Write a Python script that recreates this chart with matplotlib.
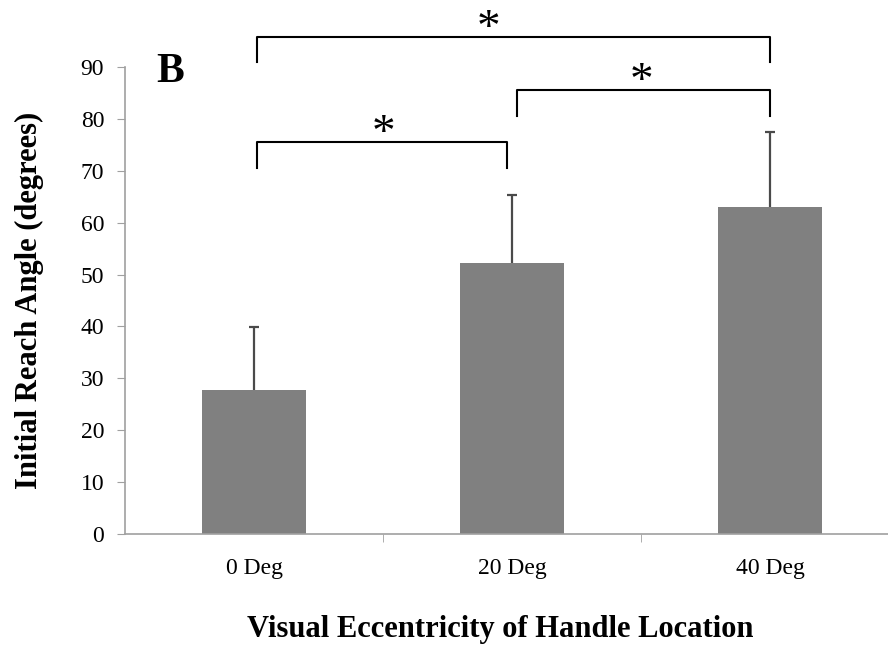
import matplotlib.pyplot as plt

# Data
categories = ["0 Deg", "20 Deg", "40 Deg"]
means = [27.7, 52.2, 63.0]
errors = [12.2, 13.1, 14.5]
y_ticks = [0, 10, 20, 30, 40, 50, 60, 70, 80, 90]

# Significance brackets: (left bar, right bar, bracket height, leg bottom)
brackets = [(0, 2, 95.8, 90.9), (1, 2, 85.5, 80.5), (0, 1, 75.5, 70.5)]
star_x = [0.91, 1.5, 0.5]

plt.rcParams['font.family'] = ['Liberation Serif', 'DejaVu Serif']

fig = plt.figure(figsize=(8.88, 6.5), dpi=100)
W, H = 888, 650
ax = fig.add_axes([125 / W, 116 / H, 774 / W, 467 / H])

x = list(range(len(categories)))
ax.bar(x, means, width=0.4, color='#808080', zorder=2)
# one-sided error bars, cap on top only
tops = [m + e for m, e in zip(means, errors)]
ax.vlines(x, means, tops, color='#4a4a4a', lw=1.6, zorder=3)
ax.plot(x, tops, ls='none', marker='_', ms=7, mew=1.6, color='#4a4a4a', zorder=3)

ax.set_xlim(-0.5, 2.5)
ax.set_ylim(0, 90)
ax.set_yticks(y_ticks)
ax.set_xticks(x)
ax.set_xticklabels(categories)
ax.set_xticks([0.5, 1.5], minor=True)
ax.tick_params(axis='x', which='major', length=0, pad=17, labelsize=17)
ax.tick_params(axis='x', which='minor', length=6, color='#a0a0a0')
ax.tick_params(axis='y', length=6, color='#a0a0a0', labelsize=17, pad=9)

for s in ['top', 'right']:
    ax.spines[s].set_visible(False)
for s in ['left', 'bottom']:
    ax.spines[s].set_color('#a0a0a0')
    ax.spines[s].set_linewidth(1.2)

for (a, b, top, bot), sx in zip(brackets, star_x):
    xa = a + 0.01 if a == 0 else a + 0.02
    xb = b - 0.02 if b == 1 else b
    ax.plot([xa, xa, xb, xb], [bot, top, top, bot], color='black', lw=1.5,
            clip_on=False, zorder=4)
    ax.text(sx, top - 2.7, '*', ha='center', va='bottom', fontsize=34,
            clip_on=False)

ax.text(-0.326, 89, 'B', fontsize=30, fontweight='bold', ha='center', va='center')

ax.set_ylabel('Initial Reach Angle (degrees)', fontsize=22, fontweight='bold',
              labelpad=26)
fig.text(500 / W, 1 - 630 / H, 'Visual Eccentricity of Handle Location',
         fontsize=22, fontweight='bold', ha='center', va='center')

fig.savefig('out.png', dpi=100)
